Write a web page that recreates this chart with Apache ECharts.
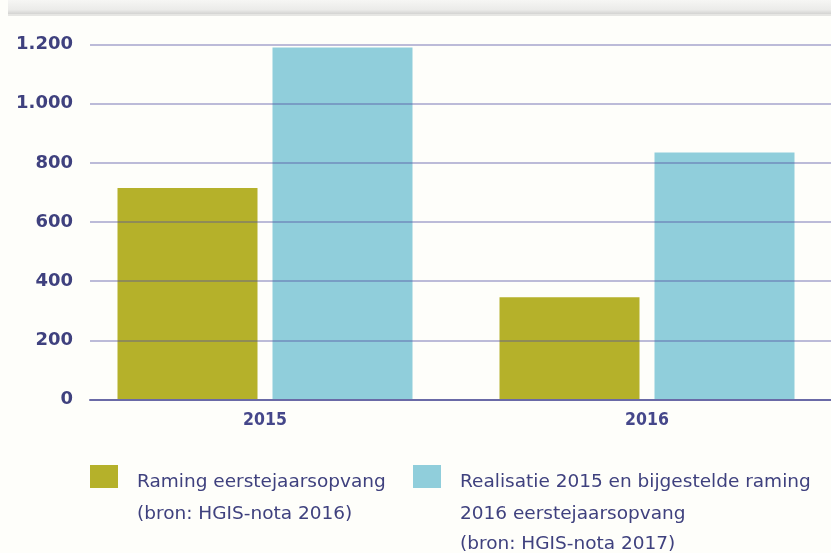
<!DOCTYPE html>
<html>
<head>
<meta charset="utf-8">
<script src="https://cdn.jsdelivr.net/npm/echarts@6/dist/echarts.min.js"></script>
<style>
html,body{margin:0;padding:0;background:#fefefa;overflow:hidden;}
#c{width:850px;height:553px;}
</style>
</head>
<body>
<div id="c"></div>
<script>
const categories = ['2015', '2016'];
const seriesNames = [
  'Raming eerstejaarsopvang (bron: HGIS-nota 2016)',
  'Realisatie 2015 en bijgestelde raming 2016 eerstejaarsopvang (bron: HGIS-nota 2017)'
];
const legendLines1 = ['Raming eerstejaarsopvang', '(bron: HGIS-nota 2016)'];
const legendLines2 = ['Realisatie 2015 en bijgestelde raming', '2016 eerstejaarsopvang', '(bron: HGIS-nota 2017)'];
const raming = [715, 346];
const realisatie = [1190, 835];
const yMin = 0, yMax = 1200, yStep = 200;

const txt = '#3f417e';
const legFont = 'DejaVu Sans';
const legSize = 18.5;
const chart = echarts.init(document.getElementById('c'));
const fmtY = v => v >= 1000 ? String(v).replace(/(\d)(\d{3})$/, '$1.$2') : String(v);

const contLines = [];
legendLines1.slice(1).forEach((t, i) => contLines.push({type:'text', x:137, y: 514 + i*30,
  style:{text:t, fill:txt, font: legSize + 'px "' + legFont + '"', textVerticalAlign:'middle'}}));
legendLines2.slice(1).forEach((t, i) => contLines.push({type:'text', x:460, y: 514 + i*30,
  style:{text:t, fill:txt, font: legSize + 'px "' + legFont + '"', textVerticalAlign:'middle'}}));

const legRich = {a: {color: txt, fontFamily: legFont, fontSize: legSize, padding: [12, 0, 0, 14]}};

chart.setOption({
  backgroundColor: '#fefefa',
  animation: false,
  grid: [
    {left: 90, top: 44.5, width: 741, bottom: 153.5},
    {left: 74, top: 44.5, width: 764, bottom: 153.5}
  ],
  xAxis: [
    {gridIndex: 0, type: 'category', data: categories, z: 10,
     axisLine: {show: true, lineStyle: {color: '#6a6aa6', width: 2}},
     axisTick: {show: false}, axisLabel: {show: false}},
    {gridIndex: 1, type: 'category', data: categories,
     axisLine: {show: false}, axisTick: {show: false},
     axisLabel: {color: '#45478a', fontFamily: 'DejaVu Sans Condensed', fontWeight: 'bold', fontSize: 17.5, margin: 12}}
  ],
  yAxis: [
    {gridIndex: 0, type: 'value', min: yMin, max: yMax, interval: yStep, z: 10,
     axisLine: {show: false}, axisTick: {show: false},
     splitLine: {lineStyle: {color: 'rgba(80,78,160,0.5)', width: 1.5}},
     axisLabel: {color: txt, fontFamily: 'DejaVu Sans', fontWeight: 'bold', fontSize: 18, margin: 17, formatter: fmtY}},
    {gridIndex: 1, type: 'value', min: yMin, max: yMax, interval: yStep, show: false}
  ],
  legend: [
    {left: 85, top: 460, itemWidth: 28, itemHeight: 23, icon: 'rect',
     data: [seriesNames[0]], formatter: () => '{a|' + legendLines1[0] + '}',
     textStyle: {color: txt, fontFamily: legFont, fontSize: legSize, rich: legRich}},
    {left: 408, top: 460, itemWidth: 28, itemHeight: 23, icon: 'rect',
     data: [seriesNames[1]], formatter: () => '{a|' + legendLines2[0] + '}',
     textStyle: {color: txt, fontFamily: legFont, fontSize: legSize, rich: legRich}}
  ],
  graphic: [
    {type: 'rect', left: 8, top: 0, shape: {width: 823, height: 14},
     style: {fill: new echarts.graphic.LinearGradient(0, 0, 0, 1, [
       {offset: 0, color: '#f6f6f4'}, {offset: 0.7, color: '#ebebe9'}, {offset: 1, color: '#d3d3d1'}])}},
    {type: 'rect', left: 8, top: 14, shape: {width: 823, height: 2}, style: {fill: '#e6e6e3'}}
  ].concat(contLines),
  series: [
    {name: seriesNames[0], type: 'bar', xAxisIndex: 1, yAxisIndex: 1, data: raming,
     barWidth: 140, barGap: '10.7%', itemStyle: {color: '#b5b12a'}},
    {name: seriesNames[1], type: 'bar', xAxisIndex: 1, yAxisIndex: 1, data: realisatie,
     barWidth: 140, barGap: '10.7%', itemStyle: {color: '#90cedb'}}
  ]
});
</script>
</body>
</html>
